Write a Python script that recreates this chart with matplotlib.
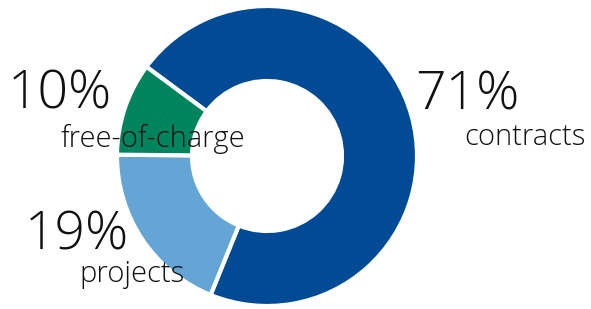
import matplotlib.pyplot as plt

# shares of the donut, clockwise from the top-left
labels = ['contracts', 'projects', 'free-of-charge']
shares = [71, 19, 10]
pct_labels = ['71%', '19%', '10%']
colors = ['#004a96', '#65a5d5', '#00845e']

W, H = 591, 309
fig = plt.figure(figsize=(W / 100, H / 100), dpi=100)

# donut centre at (267, 156) px, outer radius 150 px
cx, cy, r = 267, 156, 150
pad = 4
ax = fig.add_axes([(cx - r - pad) / W, (H - cy - r - pad) / H,
                   2 * (r + pad) / W, 2 * (r + pad) / H])
ax.pie(shares, colors=colors, startangle=143.5, counterclock=False,
       radius=1, wedgeprops=dict(width=0.5, edgecolor='white', linewidth=3))
lim = (r + pad) / r
ax.set_xlim(-lim, lim)
ax.set_ylim(-lim, lim)
ax.set_aspect('equal')
ax.axis('off')

font = dict(family='Open Sans', weight='light', color='#111111')

def put(x, y, s, size):
    fig.text(x / W, 1 - y / H, s, ha='left', va='baseline', fontsize=size,
             zorder=5, **font)

# big percentages
put(415, 110, pct_labels[0], 38.5)
put(25, 250, pct_labels[1], 38.5)
put(8, 108, pct_labels[2], 38.5)
# category names
put(464, 145, labels[0], 21)
put(79, 282, labels[1], 21)
put(61, 147, labels[2], 21)

fig.savefig('out.png', dpi=100)
